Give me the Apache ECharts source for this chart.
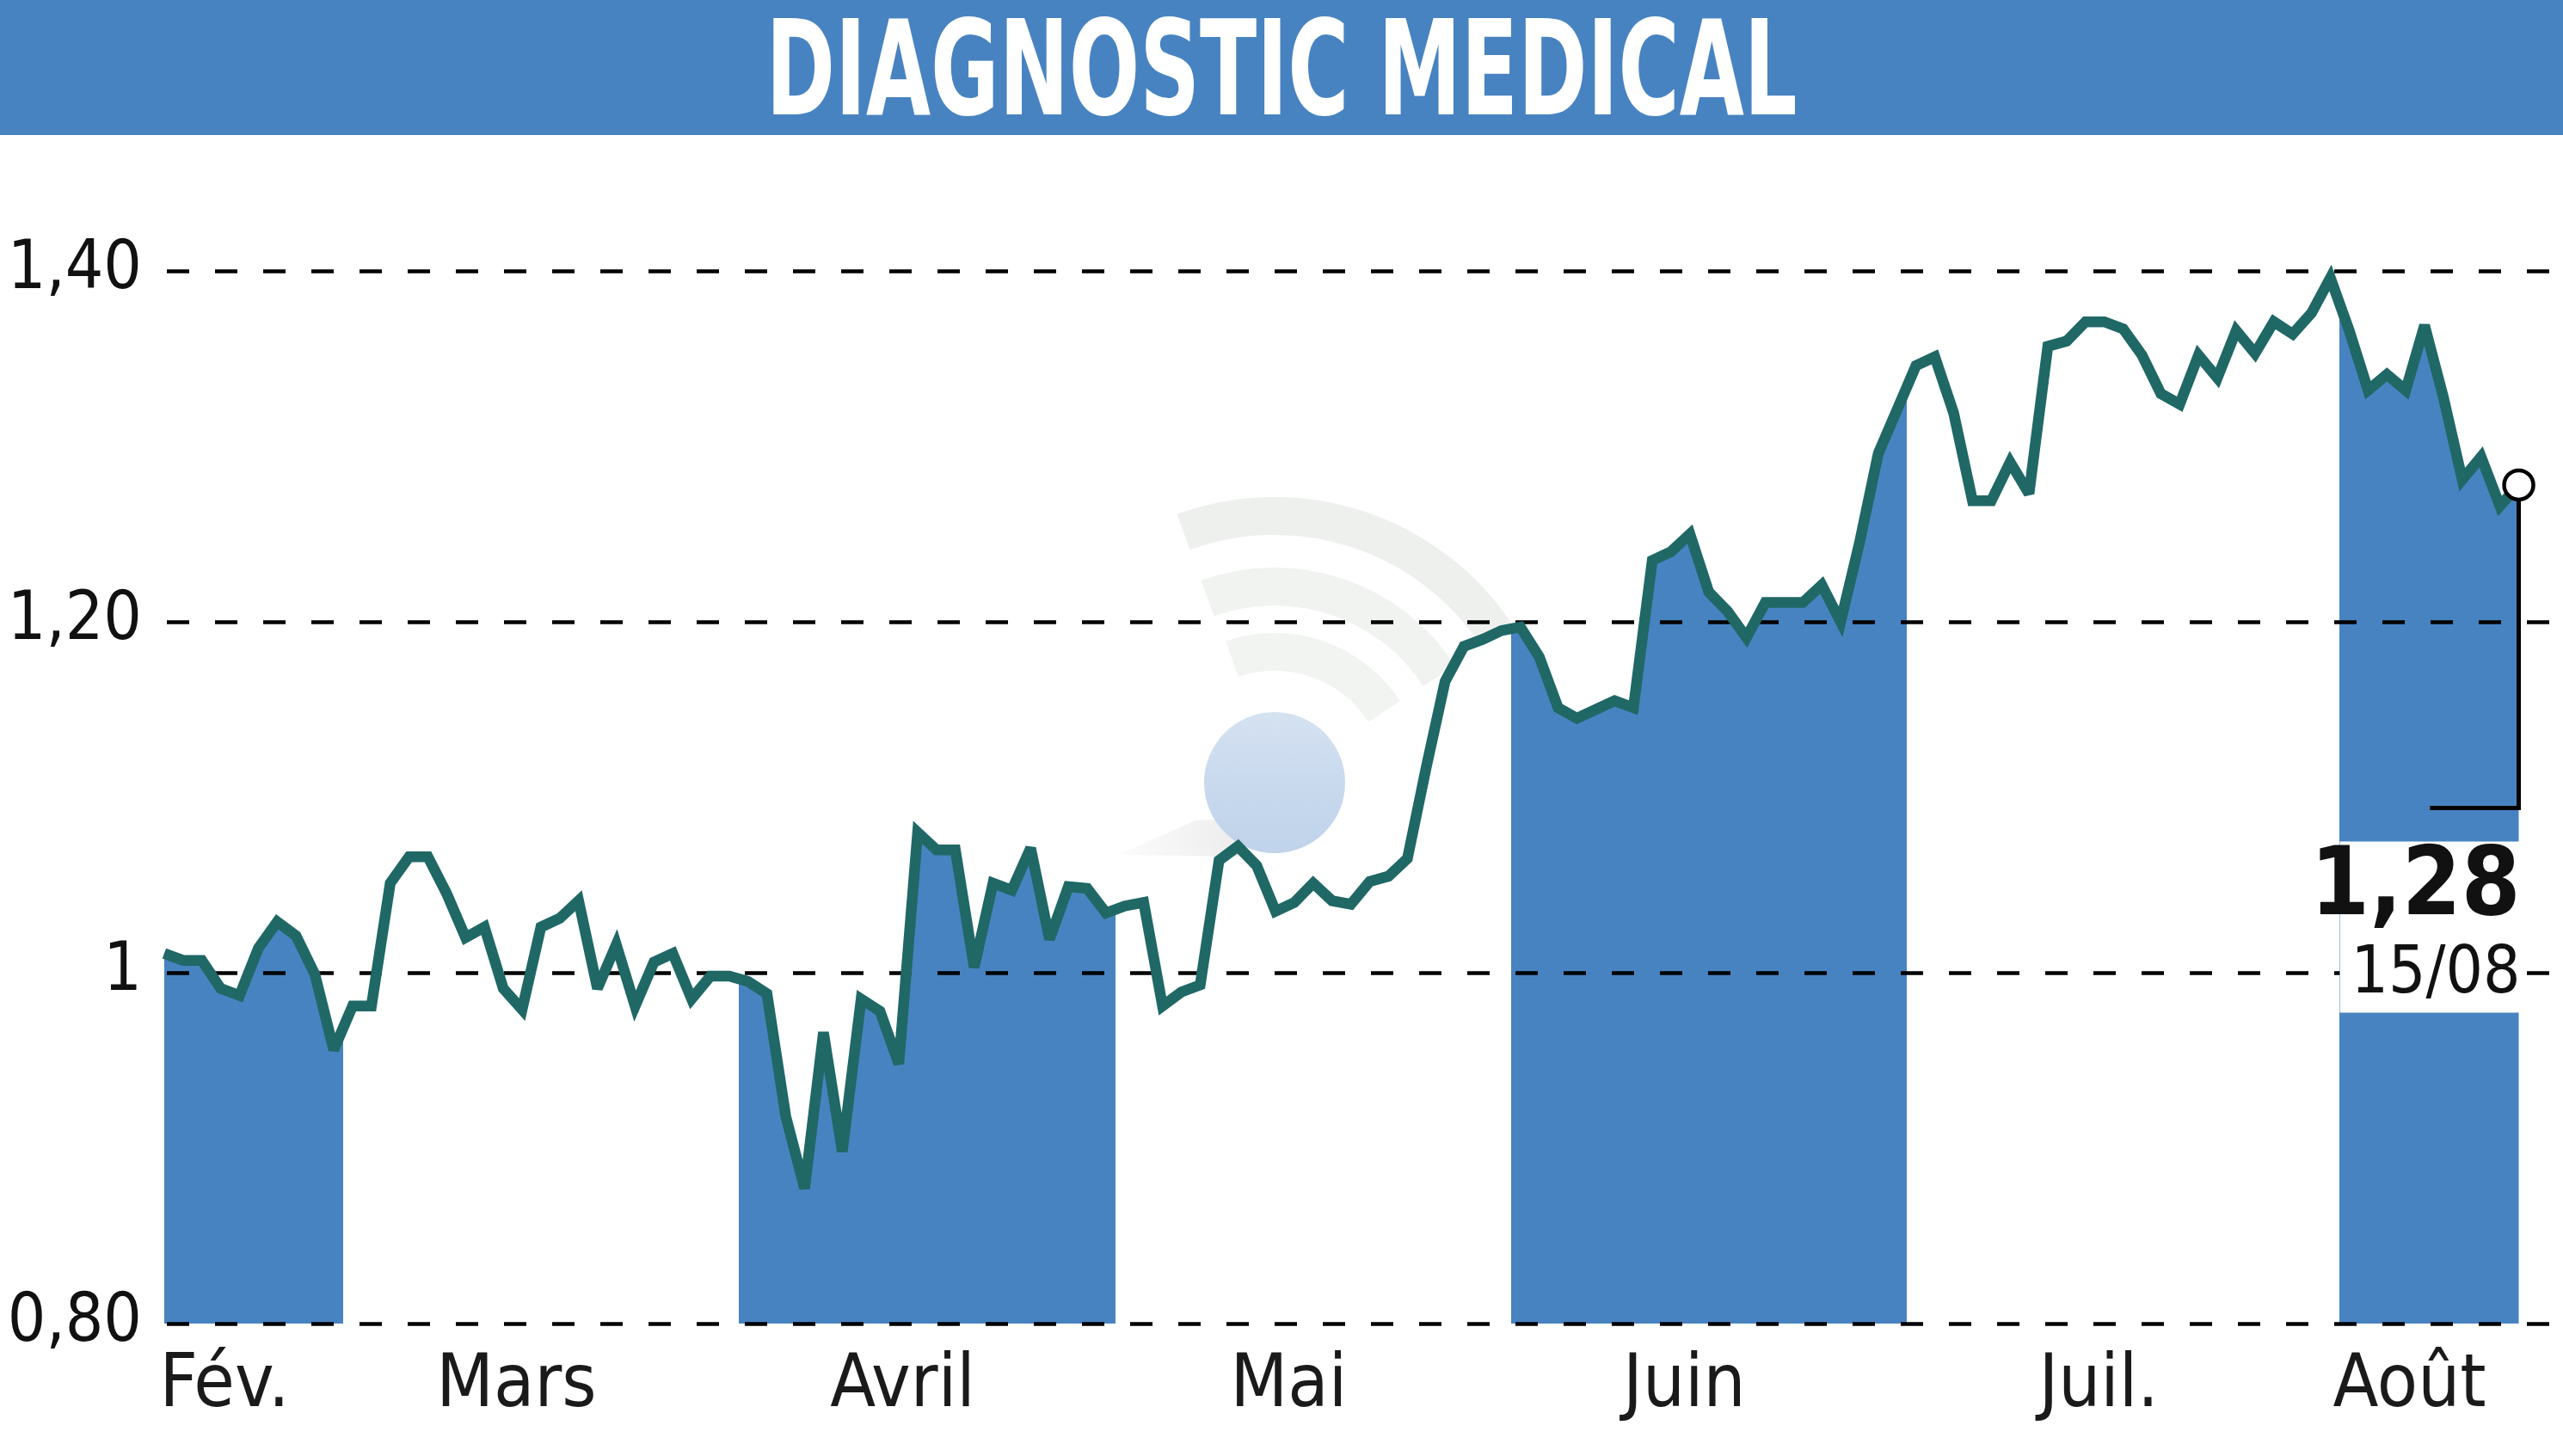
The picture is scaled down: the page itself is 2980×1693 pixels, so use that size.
<!DOCTYPE html>
<html>
<head>
<meta charset="utf-8">
<style>
html,body{margin:0;padding:0;background:#ffffff;}
#chart{width:2980px;height:1693px;}
</style>
<script src="https://cdn.jsdelivr.net/npm/echarts@6/dist/echarts.min.js"></script>
</head>
<body>
<div id="chart"></div>
<script>
// ---------------- data ----------------
const titleText = 'DIAGNOSTIC MEDICAL';
const monthNames = ['Fév.', 'Mars', 'Avril', 'Mai', 'Juin', 'Juil.', 'Août'];
const monthLengths = [10, 21, 20, 21, 21, 23, 10]; // trading days per month shown
const prices = [
  // Fév.
  1.011, 1.007, 1.007, 0.991, 0.987, 1.014, 1.029, 1.021, 0.999, 0.956,
  // Mars
  0.981, 0.981, 1.051, 1.066, 1.066, 1.045, 1.020, 1.026, 0.991, 0.979,
  1.026, 1.031, 1.041, 0.991, 1.016, 0.981, 1.006, 1.011, 0.985, 0.998, 0.998,
  // Avril
  0.995, 0.988, 0.918, 0.877, 0.966, 0.898, 0.985, 0.978, 0.948, 1.080,
  1.070, 1.070, 1.003, 1.051, 1.047, 1.071, 1.019, 1.049, 1.048, 1.034,
  // Mai
  1.038, 1.040, 0.981, 0.989, 0.993, 1.064, 1.072, 1.061, 1.035, 1.040,
  1.051, 1.041, 1.039, 1.052, 1.055, 1.065, 1.117, 1.166, 1.186, 1.190, 1.195,
  // Juin
  1.197, 1.180, 1.151, 1.145, 1.150, 1.155, 1.151, 1.235, 1.240, 1.250,
  1.217, 1.206, 1.191, 1.211, 1.211, 1.211, 1.221, 1.200, 1.245, 1.296, 1.321,
  // Juil.
  1.346, 1.351, 1.319, 1.269, 1.269, 1.291, 1.273, 1.357, 1.360, 1.371,
  1.371, 1.367, 1.352, 1.330, 1.324, 1.352, 1.339, 1.366, 1.353, 1.371,
  1.364, 1.376, 1.396,
  // Août
  1.366, 1.332, 1.341, 1.332, 1.369, 1.328, 1.281, 1.294, 1.266, 1.278
];
const lastDate = '15/08';
const yMin = 0.8, yMax = 1.4, yStep = 0.2;

// ---------------- styles ----------------
const BLUE = '#4883c1';
const LINE = '#1f6866';
const FONT = "'Liberation Sans Narrow', 'DejaVu Sans Condensed', 'Noto Sans', sans-serif";

// ---------------- derived ----------------
const seriesData = prices.map((v, i) => [i, v]);
const monthStarts = [];
let acc = 0;
monthLengths.forEach(n => { monthStarts.push(acc); acc += n; });
const monthBounds = monthStarts.map((s, k) => [s - 0.5, s + monthLengths[k] - 0.5]);
const pieces = monthBounds.map((b, k) => ({
  gte: b[0], lt: b[1],
  color: k % 2 === 0 ? BLUE : 'rgba(255,255,255,0)'
}));
const labelPos = monthBounds.map(b => (b[0] + b[1]) / 2 - 1.3);
const lastIdx = prices.length - 1;
const lastVal = prices[lastIdx];
const calloutY = lastVal - 0.184;
const calloutX = lastIdx - 4.6;

function fmtNum(v) {
  if (Math.abs(v - 1) < 1e-9) return '1';
  return v.toFixed(2).replace('.', ',');
}

const chart = echarts.init(document.getElementById('chart'), null, {renderer: 'canvas'});

const option = {
  animation: false,
  backgroundColor: '#ffffff',
  graphic: [
    { type: 'rect', z: -10, silent: true,
      shape: { x: 0, y: 0, width: 2980, height: 157 },
      style: { fill: BLUE } },
    { type: 'text', z: 10, silent: true,
      x: 1490, y: 93, scaleX: 0.70,
      style: { text: titleText, fill: '#ffffff', align: 'center', verticalAlign: 'middle',
               fontFamily: FONT, fontWeight: 'bold', fontSize: 154 } },
    // faint watermark logo
    { type: 'arc', z: -5, silent: true,
      shape: { cx: 1482, cy: 910, r: 310, startAngle: -110 * Math.PI / 180, endAngle: -34 * Math.PI / 180 },
      style: { stroke: '#eef0ee', lineWidth: 44, fill: null } },
    { type: 'arc', z: -5, silent: true,
      shape: { cx: 1482, cy: 910, r: 228, startAngle: -110 * Math.PI / 180, endAngle: -33 * Math.PI / 180 },
      style: { stroke: '#f0f3f0', lineWidth: 44, fill: null } },
    { type: 'arc', z: -5, silent: true,
      shape: { cx: 1482, cy: 910, r: 152, startAngle: -109 * Math.PI / 180, endAngle: -33 * Math.PI / 180 },
      style: { stroke: '#f1f4f1', lineWidth: 44, fill: null } },
    { type: 'polygon', z: -5, silent: true,
      shape: { points: [[1300, 994], [1390, 954], [1440, 952], [1440, 996]] },
      style: { fill: new echarts.graphic.LinearGradient(0, 0, 1, 0, [
        { offset: 0, color: 'rgba(238,238,238,0.2)' }, { offset: 1, color: '#ededed' }
      ]) } },
    { type: 'circle', z: -4, silent: true,
      shape: { cx: 1482, cy: 910, r: 82 },
      style: { fill: new echarts.graphic.LinearGradient(0, 0, 0, 1, [
        { offset: 0, color: '#d5e2f1' }, { offset: 0.45, color: '#cadaee' }, { offset: 1, color: '#bfd3ea' }
      ]) } }
  ],
  grid: { left: 185, right: 0, top: 315, bottom: 154, containLabel: false, outerBoundsMode: 'none' },
  xAxis: {
    type: 'value',
    min: -0.27,
    max: 127.35,
    axisLine: { show: false },
    axisTick: { show: false },
    splitLine: { show: false },
    axisLabel: {
      customValues: labelPos,
      formatter: function (v) {
        let best = 0, d = Infinity;
        labelPos.forEach((p, k) => { const dd = Math.abs(p - v); if (dd < d) { d = dd; best = k; } });
        return monthNames[best];
      },
      margin: 31,
      color: '#1a1a1a',
      fontFamily: FONT,
      fontSize: 86,
      hideOverlap: false
    }
  },
  yAxis: {
    type: 'value',
    min: yMin,
    max: yMax,
    interval: yStep,
    z: 2,
    axisLine: { show: false },
    axisTick: { show: false },
    axisLabel: {
      formatter: fmtNum,
      margin: 20,
      color: '#111111',
      fontFamily: FONT,
      fontSize: 78
    },
    splitLine: {
      show: true,
      lineStyle: { color: '#000000', width: 4.5, type: [26, 30], dashOffset: 47 }
    }
  },
  visualMap: {
    show: false,
    type: 'piecewise',
    seriesIndex: 1,
    dimension: 0,
    pieces: pieces,
    outOfRange: { color: 'rgba(255,255,255,0)' }
  },
  series: [
    {
      name: 'cours',
      type: 'line',
      z: 3,
      data: seriesData,
      showSymbol: false,
      clip: false,
      silent: true,
      lineStyle: { color: LINE, width: 12.5, join: 'miter', miterLimit: 3, cap: 'butt' },
      itemStyle: { color: LINE },
      markLine: {
        silent: true,
        z: 4,
        symbol: ['none', 'none'],
        label: { show: false },
        lineStyle: { color: '#000000', width: 5, type: 'solid', cap: 'square' },
        data: [
          [{ coord: [lastIdx, lastVal] }, { coord: [lastIdx, calloutY] }],
          [{ coord: [lastIdx, calloutY] }, { coord: [calloutX, calloutY] }]
        ]
      },
      markPoint: {
        silent: true,
        z: 6,
        symbol: 'circle',
        symbolSize: 34,
        itemStyle: { color: '#ffffff', borderColor: '#000000', borderWidth: 4.5 },
        label: {
          show: true,
          position: 'inside',
          offset: [-100, 514],
          formatter: function () { return '{a|' + fmtNum(lastVal) + '}\n{b|' + lastDate + '}'; },
          backgroundColor: '#ffffff',
          width: 210,
          padding: [0, 6, 0, 0],
          rich: {
            a: { fontFamily: FONT, fontWeight: 'bold', fontSize: 110, lineHeight: 112, color: '#111111', align: 'right' },
            b: { fontFamily: FONT, fontSize: 76, lineHeight: 87, color: '#111111', align: 'right' }
          }
        },
        data: [{ coord: [lastIdx, lastVal], value: lastVal }]
      }
    },
    {
      name: 'zone',
      type: 'line',
      z: 1,
      data: seriesData,
      showSymbol: false,
      silent: true,
      clip: true,
      lineStyle: { width: 0, opacity: 0 },
      areaStyle: { opacity: 1 }
    }
  ]
};

chart.setOption(option);
</script>
</body>
</html>
